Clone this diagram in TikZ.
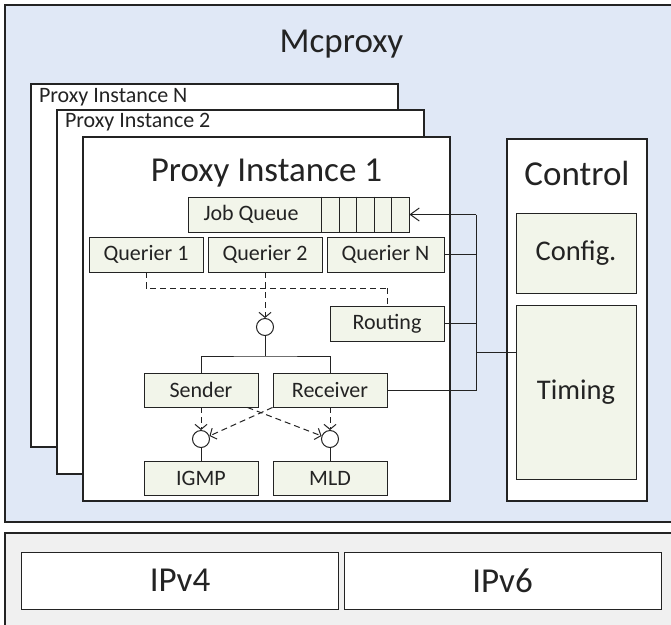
\documentclass[tikz,border=0pt]{standalone}
\usepackage{fontspec}
\setmainfont{Carlito}
\usetikzlibrary{arrows.meta}
\definecolor{mcblue}{RGB}{224,232,246}
\definecolor{osgray}{RGB}{240,240,240}
\definecolor{compgreen}{RGB}{242,245,234}
\definecolor{linegray}{RGB}{35,35,35}

\begin{document}
\begin{tikzpicture}[x=1pt, y=-1pt, line width=1pt, color=linegray, >={Straight Barb[length=9pt, width=13pt]},
    frame/.style = {draw, line width=1.6pt, fill=white, inner sep=0pt},
    comp/.style = {draw, line width=0.9pt, fill=compgreen, inner sep=0pt, minimum height=35, font=\fontsize{22}{26}\selectfont},
    joint/.style = {draw, circle, fill=white, minimum size=17, inner sep=0pt},
    ttl/.style = {font=\fontsize{35}{40}\selectfont, anchor=base},
    lbl/.style = {font=\fontsize{22}{26}\selectfont, anchor=base west},
    flow/.style = {dash pattern=on 6pt off 4pt, ->, >={Straight Barb[length=5pt, width=12pt]}}]
    \useasboundingbox (0,0) rectangle (671,624);

    % Frames
    \node[frame, fill=mcblue, minimum width=675, minimum height=517] (mcproxy) at (342.5, 263.5) {};
    \node[frame, fill=osgray, minimum width=675, minimum height=107] (os) at (342.5, 586.5) {};
    \node[ttl] (mctitle) at (341.5, 52) {Mcproxy};

    \node[frame, minimum width=367, minimum height=363] (instN) at (214.5, 265.5) {};
    \node[lbl] (instNlbl) at ([shift={(5,19)}]instN.north west) {Proxy Instance N};
    \node[frame, minimum width=367, minimum height=364] (inst2) at (240.5, 292) {};
    \node[lbl] (inst2lbl) at ([shift={(5,18)}]inst2.north west) {Proxy Instance 2};
    \node[frame, minimum width=367, minimum height=364] (inst1) at (266.5, 319) {};
    \node[ttl] (inst1lbl) at ([yshift=-45.5]inst1.north) {Proxy Instance 1};

    \node[frame, minimum width=140, minimum height=362] (control) at (577, 320) {};
    \node[ttl] (controllbl) at ([yshift=-47]control.north) {Control};
    \node[comp, minimum width=120, minimum height=80, font=\fontsize{28.5}{32}\selectfont] (config) at (576, 253) {Config.};
    \node[comp, minimum width=120, minimum height=174, font=\fontsize{28.5}{32}\selectfont] (timing) at (576, 392) {Timing};

    \node[frame, line width=1pt, minimum width=317, minimum height=57, font=\fontsize{35}{40}\selectfont] (ipv4) at (180, 580.5) {IPv4};
    \node[frame, line width=1pt, minimum width=317, minimum height=57, font=\fontsize{35}{40}\selectfont] (ipv6) at (502.5, 580.5) {IPv6};

    % Components
    \node[comp, minimum width=221] (jobq) at (298.5, 214.5) {};
    \node[font=\fontsize{22}{26}\selectfont] (jobqlbl) at (251, 214.5) {Job Queue};
    \foreach \i in {0,...,4}
        \draw[line width=0.9pt] ([xshift=134+17.5*\i]jobq.north west) -- ([xshift=134+17.5*\i]jobq.south west);
    \node[comp, minimum width=114] (q1) at (146, 254.5) {Querier 1};
    \node[comp, minimum width=114] (q2) at (265, 254.5) {Querier 2};
    \node[comp, minimum width=117] (qN) at (385.5, 254.5) {Querier N};
    \node[comp, minimum width=114] (routing) at (387, 323.5) {Routing};
    \node[comp, minimum width=114, minimum height=34] (sender) at (201, 390) {Sender};
    \node[comp, minimum width=114, minimum height=34] (receiver) at (330, 390) {Receiver};
    \node[comp, minimum width=114, minimum height=34] (igmp) at (201, 478) {IGMP};
    \node[comp, minimum width=114, minimum height=34] (mld) at (330, 478) {MLD};

    \node[joint] (j0) at (265, 327) {};
    \node[joint] (j1) at (201, 439) {};
    \node[joint] (j2) at (330, 439) {};

    % Edges
    \coordinate (qbus) at (387, 288);
    \coordinate (split) at (265, 356);
    \draw[flow, -] (q1.south) |- (qbus);
    \draw[flow, -] (qbus) -- (routing.north);
    \draw[flow] (q2.south) -- (j0.north);
    \draw (j0.south) -- (split);
    \draw (sender.north) |- (split) -| (receiver.north);

    \draw[flow] (sender.south) -- (j1.north);
    \draw[flow] (receiver.south) -- (j2.north);
    \draw[flow] ([xshift=-11]sender.south east) -- (j2.160);
    \draw[flow] (receiver.south west) -- (j1.20);
    \draw (j1.south) -- (igmp.north);
    \draw (j2.south) -- (mld.north);

    \coordinate (ctltop) at (476, 214.5);
    \coordinate (ctljoin) at (476, 352);
    \draw[->] (ctltop) -- (jobq.east);
    \draw (ctltop) |- (receiver.east);
    \draw (qN.east) -- (qN.east -| ctltop);
    \draw (routing.east) -- (routing.east -| ctltop);
    \draw (ctljoin) -- (ctljoin -| timing.west);
\end{tikzpicture}
\end{document}
